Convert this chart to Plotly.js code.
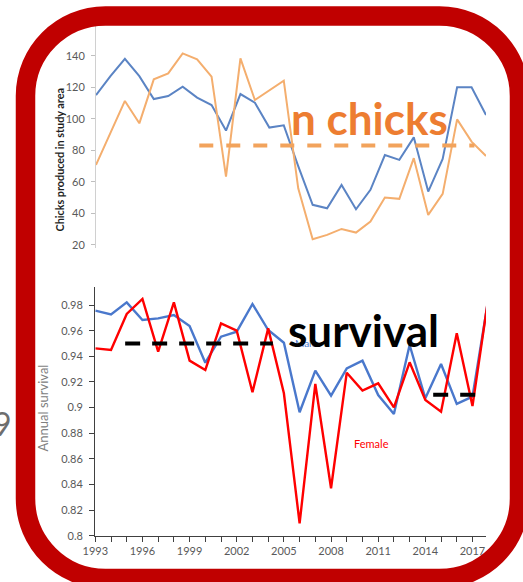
<!DOCTYPE html>
<html>
<head>
<meta charset="utf-8">
<script src="https://cdn.plot.ly/plotly-3.0.1.min.js"></script>
<style>
html,body{margin:0;padding:0;background:#ffffff;}
#chart{width:523px;height:582px;}
</style>
</head>
<body>
<div id="chart"></div>
<script>
// ---- Data: chicks produced in study area (top panel) ----
const chickYears = [1991,1992,1993,1994,1995,1996,1997,1998,1999,2000,2001,2002,2003,2004,
                    2005,2006,2007,2008,2009,2010,2011,2012,2013,2014,2015,2016,2017,2018];
const chicksBlue = [115,127,138,127,112.5,114.4,120.4,113.4,108.7,92.5,115.7,110.2,94.4,95.8,
                    70,45.4,43.2,58,42.6,54.9,77,73.9,88.2,53.8,74.5,120,120,102.4];
const chicksOrange = [70.7,91,111.3,97.1,125,128.8,141.5,137.7,126.7,63.3,138.3,111.9,118,124.2,
                      55.9,23.6,26.3,30.1,27.8,34.8,50,49.2,75,39,52.3,99.6,85.5,76.4];
const chicksMeanValue = 83;
const chicksMeanSpan = [1998.15, 2017.2];
const chicksTicks = [20,40,60,80,100,120,140];

// ---- Data: annual survival (bottom panel) ----
const survYears = [1993,1994,1995,1996,1997,1998,1999,2000,2001,2002,2003,2004,2005,
                   2006,2007,2008,2009,2010,2011,2012,2013,2014,2015,2016,2017,2018];
const maleSurvival = [0.9756,0.9727,0.9821,0.9683,0.9696,0.9722,0.9636,0.935,0.9553,0.9592,0.9808,0.9605,0.9506,
                      0.8963,0.9288,0.9093,0.9306,0.9366,0.9098,0.895,0.9488,0.9072,0.934,0.9028,0.9085,0.984];
const femaleSurvival = [0.9462,0.9449,0.973,0.9847,0.9436,0.9821,0.9366,0.9293,0.9657,0.96,0.9119,0.9618,0.9111,
                        0.8097,0.9184,0.837,0.9272,0.9132,0.9189,0.9002,0.9353,0.9059,0.8968,0.9579,0.9012,0.985];
const survMeanStart = [1994.9, 2014.5];
const survMeanEnd = [2004.3, 2017.3];
const survMeanValue = [0.95, 0.91];
const survTickVals = [0.8,0.82,0.84,0.86,0.88,0.9,0.92,0.94,0.96,0.98];
const survTickText = ["0.8","0.82","0.84","0.86","0.88","0.9","0.92","0.94","0.96","0.98"];

// ---- Layout helpers (pixel -> paper, margins are zero) ----
const W = 523, H = 582;
const px = x => x / W;
const py = y => 1 - y / H;

function roundedRectPath(L, T, R, B, r) {
  const k = 0.5523 * r;
  const P = (x, y) => px(x).toFixed(5) + ',' + py(y).toFixed(5);
  return 'M' + P(L + r, T) +
    ' L' + P(R - r, T) +
    ' C' + P(R - r + k, T) + ' ' + P(R, T + r - k) + ' ' + P(R, T + r) +
    ' L' + P(R, B - r) +
    ' C' + P(R, B - r + k) + ' ' + P(R - r + k, B) + ' ' + P(R - r, B) +
    ' L' + P(L + r, B) +
    ' C' + P(L + r - k, B) + ' ' + P(L, B - r + k) + ' ' + P(L, B - r) +
    ' L' + P(L, T + r) +
    ' C' + P(L, T + r - k) + ' ' + P(L + r - k, T) + ' ' + P(L + r, T) + ' Z';
}

const tickFont = {family: 'Lato, sans-serif', size: 11, color: '#595959'};

const traces = [
  {x: chickYears, y: chicksBlue, xaxis: 'x', yaxis: 'y', type: 'scatter', mode: 'lines',
   line: {color: '#5B84C4', width: 2}, hoverinfo: 'skip'},
  {x: chickYears, y: chicksOrange, xaxis: 'x', yaxis: 'y', type: 'scatter', mode: 'lines',
   line: {color: '#F4AE6E', width: 2}, hoverinfo: 'skip'},
  {x: survYears, y: maleSurvival, xaxis: 'x2', yaxis: 'y2', type: 'scatter', mode: 'lines',
   line: {color: '#4A78CC', width: 2.4}, hoverinfo: 'skip'},
  {x: survYears, y: femaleSurvival, xaxis: 'x2', yaxis: 'y2', type: 'scatter', mode: 'lines',
   line: {color: '#FF0000', width: 2.4}, hoverinfo: 'skip'}
];

const shapes = [
  {type: 'line', xref: 'x', yref: 'y', x0: chicksMeanSpan[0], x1: chicksMeanSpan[1],
   y0: chicksMeanValue, y1: chicksMeanValue,
   line: {color: '#F2A35C', width: 4, dash: '14px,13px'}}
];
for (let i = 0; i < survMeanValue.length; i++) {
  shapes.push({type: 'line', xref: 'x2', yref: 'y2', x0: survMeanStart[i], x1: survMeanEnd[i],
    y0: survMeanValue[i], y1: survMeanValue[i],
    line: {color: '#000000', width: 4, dash: '15px,12px'}});
}
shapes.push({type: 'path', xref: 'paper', yref: 'paper', layer: 'above',
  path: roundedRectPath(25.5, 16, 519.5, 578.5, 80),
  line: {color: '#C00000', width: 19.5}, fillcolor: 'rgba(0,0,0,0)'});

const annotations = [
  {text: 'Chicks produced in study area', xref: 'paper', yref: 'paper', x: px(58.5), y: py(160),
   textangle: -90, showarrow: false, xanchor: 'center', yanchor: 'middle',
   font: {family: 'Lato, sans-serif', size: 10.8, color: '#1F1F1F', weight: 'bold'}},
  {text: 'Annual survival', xref: 'paper', yref: 'paper', x: px(42.5), y: py(408),
   textangle: -90, showarrow: false, xanchor: 'center', yanchor: 'middle',
   font: {family: 'Lato, sans-serif', size: 13, color: '#808080'}},
  {text: 'Female', xref: 'paper', yref: 'paper', x: px(371.5), y: py(443.5),
   showarrow: false, xanchor: 'center', yanchor: 'middle',
   font: {family: 'Lato, sans-serif', size: 11, color: '#FF0000'}},
  {text: 'Male', xref: 'paper', yref: 'paper', x: px(306), y: py(343),
   showarrow: false, xanchor: 'center', yanchor: 'middle',
   font: {family: 'Lato, sans-serif', size: 10, color: '#4A78CC'}},
  {text: 'n chicks', xref: 'paper', yref: 'paper', x: px(290), y: py(118),
   showarrow: false, xanchor: 'left', yanchor: 'middle', borderpad: 0,
   font: {family: 'Lato, sans-serif', size: 44, color: '#ED7D31', weight: 'bold'}},
  {text: 'survival', xref: 'paper', yref: 'paper', x: px(286.5), y: py(330),
   showarrow: false, xanchor: 'left', yanchor: 'middle', borderpad: 0,
   font: {family: 'Lato, sans-serif', size: 44, color: '#000000', weight: 'bold'}},
  {text: '9', xref: 'paper', yref: 'paper', x: px(13), y: py(423),
   showarrow: false, xanchor: 'right', yanchor: 'middle', borderpad: 0,
   font: {family: 'Lato, sans-serif', size: 32, color: '#6E6E6E'}}
];

const layout = {
  width: W, height: H,
  margin: {l: 0, r: 0, t: 0, b: 0, pad: 0},
  paper_bgcolor: '#ffffff', plot_bgcolor: 'rgba(0,0,0,0)',
  showlegend: false,
  xaxis: {domain: [px(96), px(486)], range: [1991, 2018], anchor: 'y', visible: false, fixedrange: true},
  yaxis: {domain: [py(248), py(24.2)], range: [18, 160], anchor: 'x',
    tickvals: chicksTicks, ticks: 'outside', ticklen: 4, tickcolor: '#BFBFBF', tickwidth: 1,
    showline: true, linecolor: '#D0D0D0', linewidth: 1, showgrid: false, zeroline: false,
    tickfont: tickFont, ticklabelstandoff: 4, fixedrange: true},
  xaxis2: {domain: [px(95.3), px(486)], range: [1993, 2017.86], anchor: 'y2',
    tick0: 1993, dtick: 3, ticks: 'outside', ticklen: 5, tickcolor: '#404040', tickwidth: 1,
    minor: {dtick: 1, ticks: 'outside', ticklen: 5, tickcolor: '#404040', tickwidth: 1, showgrid: false},
    showline: true, linecolor: '#404040', linewidth: 1.2, showgrid: false, zeroline: false,
    tickfont: tickFont, fixedrange: true},
  yaxis2: {domain: [py(535.7), py(286.7)], range: [0.8, 0.9943], anchor: 'x2',
    tickvals: survTickVals, ticktext: survTickText, ticks: 'outside', ticklen: 5,
    tickcolor: '#404040', tickwidth: 1,
    showline: true, linecolor: '#404040', linewidth: 1.2, showgrid: false, zeroline: false,
    tickfont: tickFont, ticklabelstandoff: 4, fixedrange: true},
  shapes: shapes,
  annotations: annotations
};

Plotly.newPlot('chart', traces, layout, {displayModeBar: false, staticPlot: true});
</script>
</body>
</html>
